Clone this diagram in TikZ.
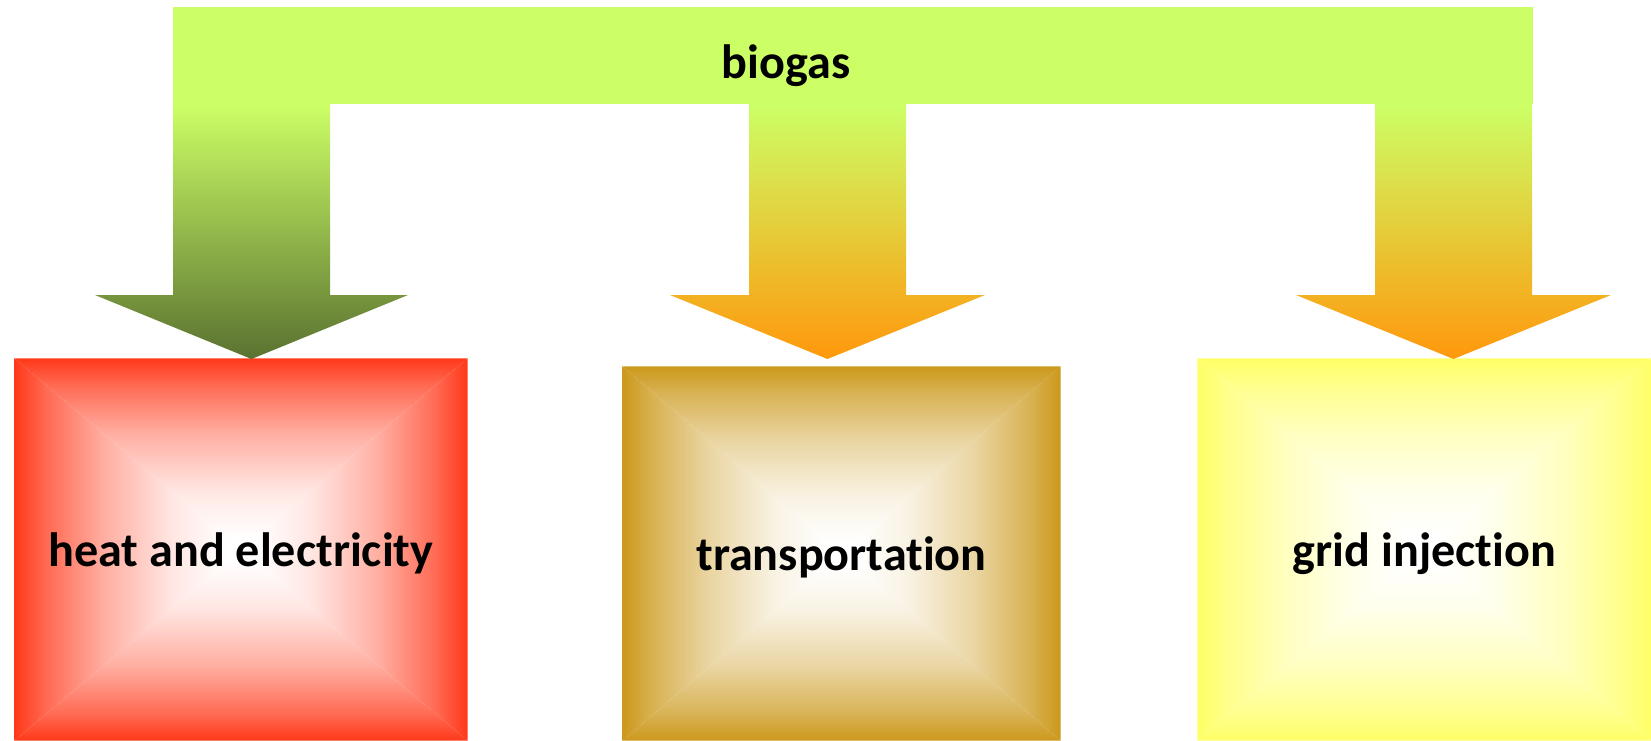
\documentclass[tikz,border=0pt]{standalone}
\usepackage{fontspec}
\setmainfont{Carlito}[Ligatures=NoCommon]
\usetikzlibrary{backgrounds}

\definecolor{barc}{HTML}{CCFF66}
\definecolor{heatc}{HTML}{FF3819}
\definecolor{transc}{HTML}{CB981A}
\definecolor{gridc}{HTML}{FFFF66}
\definecolor{olivec}{HTML}{5A7230}
\definecolor{orangec}{HTML}{FF980C}
\colorlet{edgecol}{red}

% white in the middle, colour at the edges
\pgfdeclareverticalshading[edgecol]{fadeup}{100bp}{color(0bp)=(white); color(28bp)=(white); color(40bp)=(edgecol!12!white); color(55bp)=(edgecol!40!white); color(68bp)=(edgecol!75!white); color(75bp)=(edgecol); color(100bp)=(edgecol)}
\pgfdeclareverticalshading[edgecol]{fadedown}{100bp}{color(0bp)=(edgecol); color(25bp)=(edgecol); color(32bp)=(edgecol!75!white); color(45bp)=(edgecol!40!white); color(60bp)=(edgecol!12!white); color(72bp)=(white); color(100bp)=(white)}
\pgfdeclarehorizontalshading[edgecol]{fadeleft}{100bp}{color(0bp)=(edgecol); color(25bp)=(edgecol); color(32bp)=(edgecol!75!white); color(45bp)=(edgecol!40!white); color(60bp)=(edgecol!12!white); color(72bp)=(white); color(100bp)=(white)}
\pgfdeclarehorizontalshading[edgecol]{faderight}{100bp}{color(0bp)=(white); color(28bp)=(white); color(40bp)=(edgecol!12!white); color(55bp)=(edgecol!40!white); color(68bp)=(edgecol!75!white); color(75bp)=(edgecol); color(100bp)=(edgecol)}

\tikzset{
    edge/.code={\colorlet{edgecol}{#1}},
    label/.style={font=\bfseries\fontsize{13.7}{16}\selectfont, text=black},
    target/.style={label, inner sep=0pt, text height=4.5mm, text depth=1.2mm, minimum width=#1},
}

\newcommand{\fadebox}[2]{%
    \shade[shading=fadeup, edge=#2] (#1.north west) -- (#1.north east) -- (#1.center) -- cycle;
    \shade[shading=fadedown, edge=#2] (#1.south west) -- (#1.south east) -- (#1.center) -- cycle;
    \shade[shading=fadeleft, edge=#2] (#1.north west) -- (#1.south west) -- (#1.center) -- cycle;
    \shade[shading=faderight, edge=#2] (#1.north east) -- (#1.south east) -- (#1.center) -- cycle;
}

\begin{document}
\begin{tikzpicture}[x=0.1mm, y=-0.1mm]
        \useasboundingbox (0,0) rectangle (1651,740);

        % biogas bar
        \fill[barc] (173,7) rectangle (1533,104);
        \node[label] (biogas) at (786,66) {biogas};

        % arrows
        \shade[top color=barc, middle color=barc!40!olivec!70!white!100, bottom color=olivec]
            (173,104) -- (330,104) -- (330,295) -- (408,295) -- (251.5,359) -- (95,295) -- (173,295) -- cycle;
        \shade[top color=barc, middle color={rgb,255:red,230;green,212;blue,80}, bottom color=orangec]
            (749,104) -- (906,104) -- (906,295) -- (985,295) -- (827.5,359) -- (670,295) -- (749,295) -- cycle;
        \shade[top color=barc, middle color={rgb,255:red,230;green,212;blue,80}, bottom color=orangec]
            (1375,104) -- (1532,104) -- (1532,295) -- (1611,295) -- (1453.5,359) -- (1296,295) -- (1375,295) -- cycle;

        % targets
        \node[target=45.2mm, minimum height=38.1mm] (heat) at (241,549.5) {heat and electricity};
        \node[target=43.7mm, minimum height=37.3mm] (trans) at (841.5,553.5) {transportation};
        \node[target=45.3mm, minimum height=38.1mm] (grid) at (1424.5,549.5) {grid injection};

        \begin{pgfonlayer}{background}
            \fadebox{heat}{heatc}
            \fadebox{trans}{transc}
            \fadebox{grid}{gridc}
        \end{pgfonlayer}
    \end{tikzpicture}
\end{document}
